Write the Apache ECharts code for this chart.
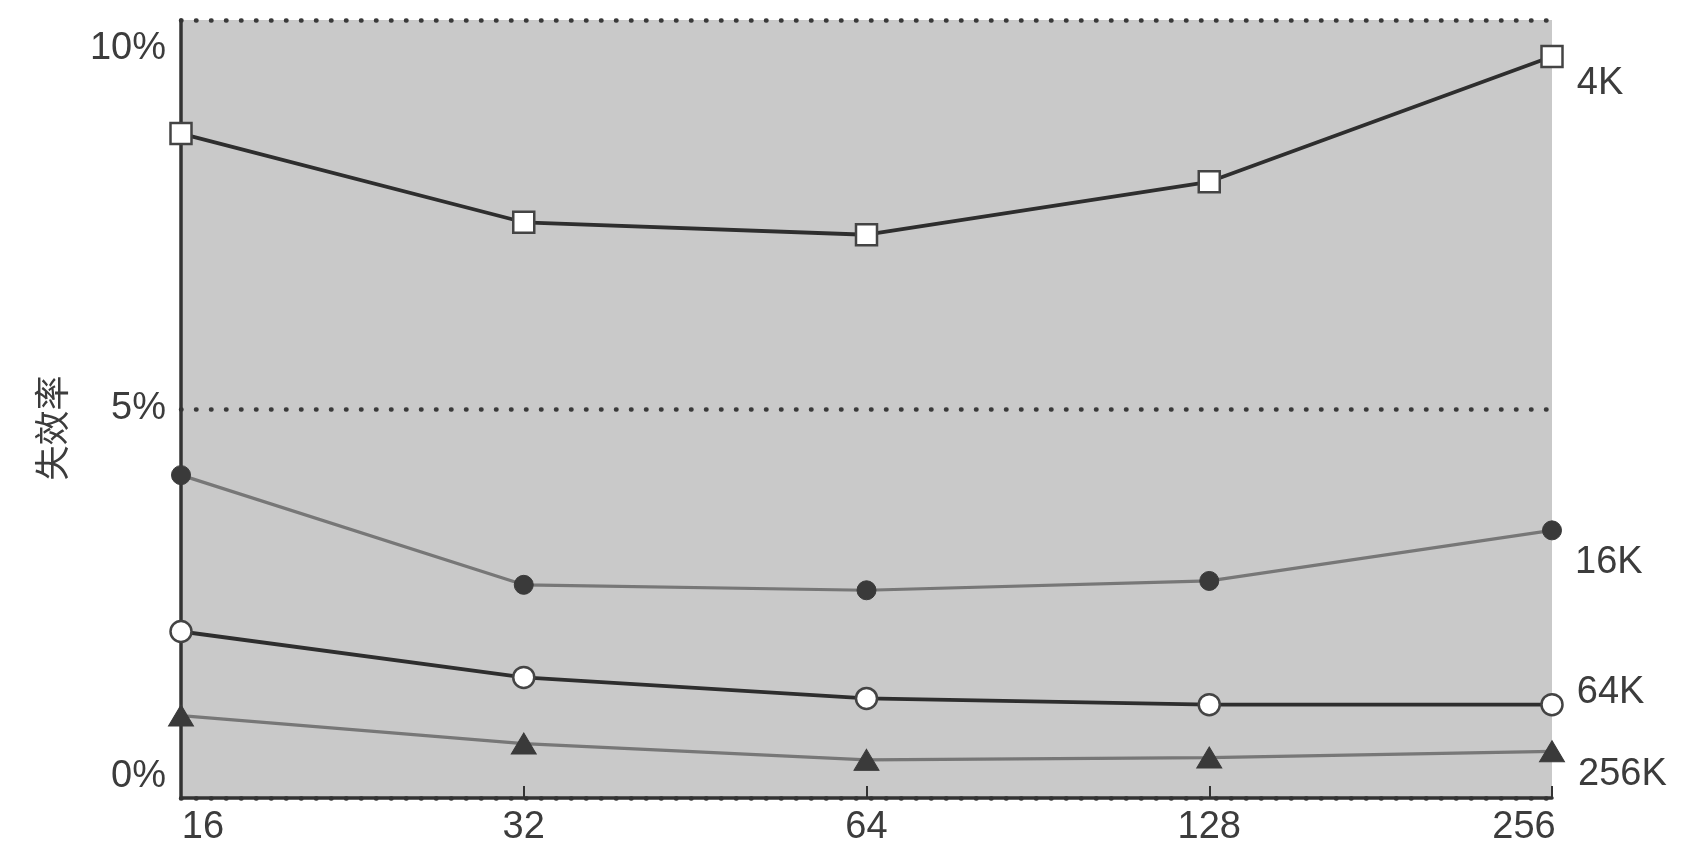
<!DOCTYPE html>
<html>
<head>
<meta charset="utf-8">
<script src="https://cdn.jsdelivr.net/npm/echarts@6/dist/echarts.min.js"></script>
<style>
html,body{margin:0;padding:0;background:#fff;}
#c{width:1697px;height:859px;}
</style>
</head>
<body>
<div id="c"></div>
<script>
const categories = ['16', '32', '64', '128', '256'];
const seriesNames = ['4K', '16K', '64K', '256K'];
const miss4K = [8.54, 7.40, 7.24, 7.92, 9.53];
const miss16K = [4.15, 2.74, 2.67, 2.79, 3.44];
const miss64K = [2.14, 1.55, 1.28, 1.20, 1.20];
const miss256K = [1.06, 0.70, 0.49, 0.52, 0.60];
const yTicks = [0, 5, 10];
const yTickLabels = ['0%', '5%', '10%'];
const yAxisName = '失效率';

const textColor = '#3c3c3c';
const font = 'Liberation Sans, Arial, sans-serif';
const fs = 38;

function endLabel(name, dy) {
  return {
    show: true,
    position: 'right',
    distance: 5,
    offset: [8, dy],
    color: textColor,
    fontFamily: font,
    fontSize: fs,
    formatter: p => p.dataIndex === categories.length - 1 ? name : ''
  };
}

const chart = echarts.init(document.getElementById('c'), null, {renderer: 'canvas'});
chart.setOption({
  animation: false,
  backgroundColor: '#ffffff',
  grid: {
    left: 181, right: 145, top: 20, bottom: 61,
    show: true, backgroundColor: '#c9c9c9', borderWidth: 0,
    outerBoundsMode: 'none'
  },
  xAxis: {
    type: 'category',
    data: categories,
    boundaryGap: false,
    axisLine: {lineStyle: {color: '#333', width: 3.5}},
    axisTick: {show: true, inside: true, length: 12, alignWithLabel: true, interval: 0, lineStyle: {color: '#333', width: 2}},
    axisLabel: {
      interval: 0,
      margin: 11,
      formatter: (v, i) => i === 0 ? '{f|' + v + '}' : (i === categories.length - 1 ? '{l|' + v + '}' : '{n|' + v + '}'),
      rich: {
        f: {fontSize: fs, fontFamily: font, color: textColor, padding: [0, 0, 0, 44]},
        l: {fontSize: fs, fontFamily: font, color: textColor, padding: [0, 56, 0, 0]},
        n: {fontSize: fs, fontFamily: font, color: textColor}
      }
    },
    splitLine: {show: false}
  },
  yAxis: {
    type: 'value',
    min: 0, max: 10, interval: 5,
    name: yAxisName,
    nameLocation: 'middle',
    nameRotate: 90,
    nameGap: 112,
    nameTextStyle: {fontFamily: 'Noto Sans CJK SC', fontSize: 35, color: textColor, padding: [0, 38, 0, 0]},
    axisLine: {show: true, lineStyle: {color: '#333', width: 3.5}},
    axisTick: {show: false},
    axisLabel: {
      margin: 15,
      formatter: v => {
        const lab = yTickLabels[yTicks.indexOf(v)];
        if (v === yTicks[yTicks.length - 1]) return '{t|' + lab + '}';
        if (v === yTicks[0]) return '{b|' + lab + '}';
        return '{m|' + lab + '}';
      },
      rich: {
        t: {fontSize: fs, fontFamily: font, color: textColor, padding: [58, 0, 0, 0]},
        b: {fontSize: fs, fontFamily: font, color: textColor, padding: [0, 0, 42, 0]},
        m: {fontSize: fs, fontFamily: font, color: textColor}
      }
    },
    splitLine: {show: true, lineStyle: {color: '#3a3a3a', width: 4.5, type: [0.5, 14.5], cap: 'round'}}
  },
  series: [
    {
      name: seriesNames[0], type: 'line', data: miss4K,
      symbol: 'rect', symbolSize: 21, showAllSymbol: true,
      lineStyle: {color: '#2e2e2e', width: 3.8},
      itemStyle: {color: '#ffffff', borderColor: '#444', borderWidth: 2.5},
      label: endLabel(seriesNames[0], 27), z: 5
    },
    {
      name: seriesNames[1], type: 'line', data: miss16K,
      symbol: 'circle', symbolSize: 19,
      lineStyle: {color: '#777777', width: 3.2},
      itemStyle: {color: '#3a3a3a', borderColor: '#3a3a3a', borderWidth: 1},
      label: endLabel(seriesNames[1], 32), z: 4
    },
    {
      name: seriesNames[2], type: 'line', data: miss64K,
      symbol: 'circle', symbolSize: 21,
      lineStyle: {color: '#2e2e2e', width: 3.8},
      itemStyle: {color: '#ffffff', borderColor: '#444', borderWidth: 2.5},
      label: endLabel(seriesNames[2], -12), z: 3
    },
    {
      name: seriesNames[3], type: 'line', data: miss256K,
      symbol: 'triangle', symbolSize: [25, 21],
      lineStyle: {color: '#777777', width: 3.2},
      itemStyle: {color: '#3a3a3a', borderColor: '#3a3a3a', borderWidth: 1},
      label: endLabel(seriesNames[3], 23), z: 2
    }
  ]
});
</script>
</body>
</html>
